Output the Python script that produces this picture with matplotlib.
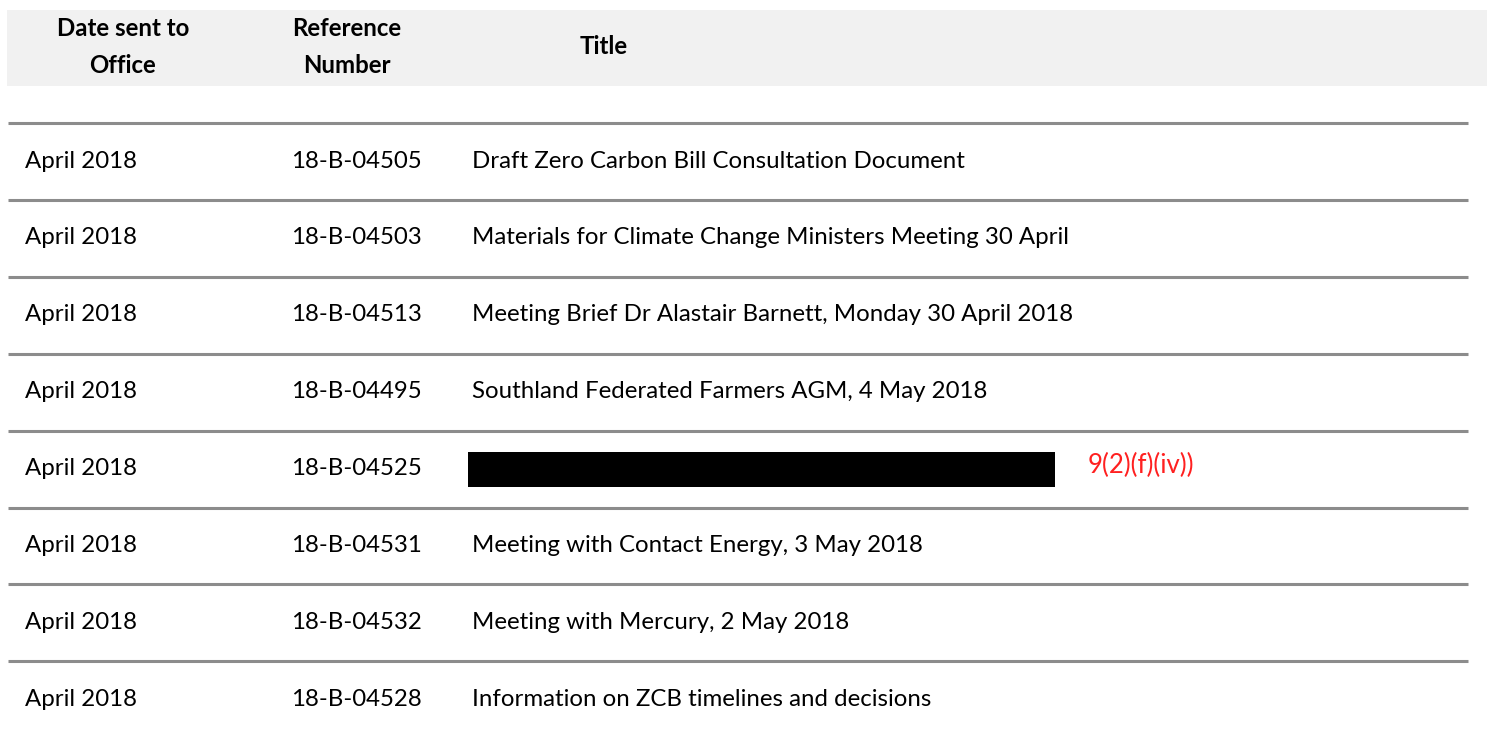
import matplotlib
matplotlib.use("Agg")
from matplotlib import pyplot as plt
from matplotlib.patches import Rectangle

# table content
headers = ["Date sent to\nOffice", "Reference\nNumber", "Title"]
dates = ["April 2018"] * 8
refs = ["18-B-04505", "18-B-04503", "18-B-04513", "18-B-04495",
        "18-B-04525", "18-B-04531", "18-B-04532", "18-B-04528"]
titles = ["Draft Zero Carbon Bill Consultation Document",
          "Materials for Climate Change Ministers Meeting 30 April",
          "Meeting Brief Dr Alastair Barnett, Monday 30 April 2018",
          "Southland Federated Farmers AGM, 4 May 2018",
          None,
          "Meeting with Contact Energy, 3 May 2018",
          "Meeting with Mercury, 2 May 2018",
          "Information on ZCB timelines and decisions"]
redaction_note = "9(2)(f)(iv))"

W, H = 1491, 734
font = "Lato"
fs = 17.3

fig = plt.figure(figsize=(W / 100, H / 100), dpi=100)
ax = fig.add_axes([0, 0, 1, 1])
ax.set_xlim(0, W)
ax.set_ylim(H, 0)
ax.axis("off")

# header band
ax.add_patch(Rectangle((7, 10), 1480, 76, color="#f1f1f1", lw=0))
ax.text(123, 47, headers[0], ha="center", va="center", fontsize=fs, fontweight="bold",
        family=font, linespacing=1.75)
ax.text(347, 47, headers[1], ha="center", va="center", fontsize=fs, fontweight="bold",
        family=font, linespacing=1.75)
ax.text(580, 47, headers[2], ha="left", va="center", fontsize=fs, fontweight="bold",
        family=font)

# rows
row_top = 123
pitch = 76.9
for i in range(len(refs)):
    y0 = row_top + i * pitch
    ax.plot([8, 1468], [y0, y0], color="#8c8c8c", lw=2.2, solid_capstyle="butt")
    yc = y0 + 38
    ax.text(25, yc, dates[i], ha="left", va="center", fontsize=fs, family=font)
    ax.text(291, yc, refs[i], ha="left", va="center", fontsize=fs, family=font)
    if titles[i] is None:
        ax.add_patch(Rectangle((468, y0 + 21), 587, 35, color="black", lw=0))
        ax.text(1088, y0 + 35, redaction_note, ha="left", va="center", fontsize=18.5,
                family=font, color="#ff2020")
    else:
        ax.text(472, yc, titles[i], ha="left", va="center", fontsize=fs, family=font)

fig.savefig("out.png", dpi=100)
